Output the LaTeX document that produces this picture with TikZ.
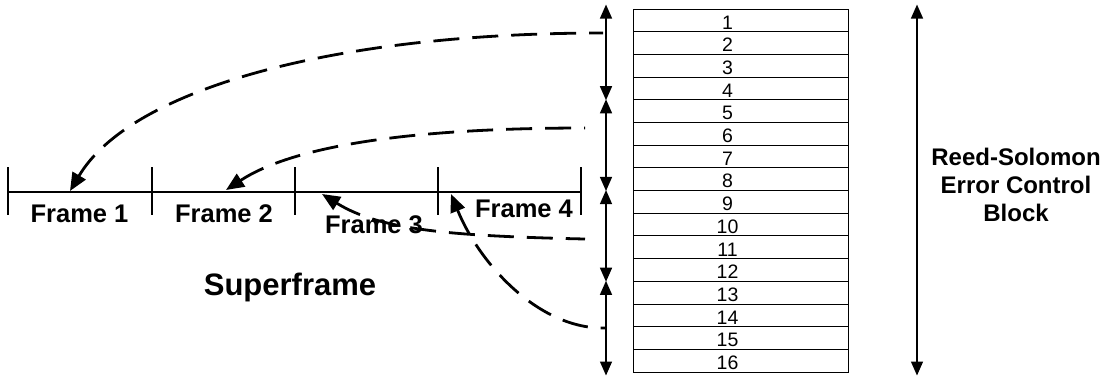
\documentclass[tikz,border=0pt]{standalone}
\usepackage{fontspec}
\setmainfont{Liberation Sans}
\usetikzlibrary{arrows.meta}

\begin{document}
\begin{tikzpicture}[x=1pt,y=-1pt,
  cell/.style={draw,line width=0.9pt,minimum width=215pt,minimum height=22.69pt,inner sep=0pt},
  num/.style={anchor=base,font=\fontsize{19.5}{19.5}\selectfont},
  frm/.style={anchor=base,font=\fontsize{25.5}{25.5}\selectfont\bfseries},
  span/.style={{Triangle[width=12pt,length=14pt]}-{Triangle[width=12pt,length=14pt]},line width=1.4pt},
  hop/.style={{Triangle[width=15pt,length=18pt]}-,line width=2.8pt,dash pattern=on 26pt off 13pt},
  tick/.style={line width=1.3pt}
]
  \useasboundingbox (0,0) rectangle (1113,376);

  \foreach \i in {1,...,16} {
    \node[cell] (r\i) at (740.5,{9+22.69*(\i-0.5)}) {};
    \node[num] at ([xshift=-13pt,yshift=3pt]r\i.south) {\i};
  }

  \coordinate (ax) at (606,0);
  \coordinate (bx) at (917,0);
  \draw[span] ([yshift=4pt]r1.north -| ax) -- (r4.south -| ax);
  \draw[span] (r5.north -| ax) -- (r8.south -| ax);
  \draw[span] (r9.north -| ax) -- (r12.south -| ax);
  \draw[span] (r13.north -| ax) -- ([yshift=-3pt]r16.south -| ax);
  \draw[span] ([yshift=4pt]r1.north -| bx) -- ([yshift=-3pt]r16.south -| bx);

  \node[font=\fontsize{24}{28}\selectfont\bfseries,align=center] (rs) at (1016,185)
    {Reed-Solomon\\Error Control\\Block};

  \foreach \n/\x in {0/8,1/152,2/295,3/438,4/581} \coordinate (t\n) at (\x,192);
  \draw[line width=2.6pt] (t0) -- (t4);
  \foreach \n in {0,...,4} \draw[tick] ([yshift=25pt]t\n) -- ([yshift=-23pt]t\n);

  \node[frm] (f1) at (79.5,222) {Frame 1};
  \node[frm] (f2) at (224,222) {Frame 2};
  \node[frm] (f3) at (374,233) {Frame 3};
  \node[frm] (f4) at (524,217) {Frame 4};
  \node[anchor=base,font=\fontsize{31}{31}\selectfont\bfseries] (sf) at (290,295) {Superframe};

  \coordinate (s1) at (603,33);
  \coordinate (s2) at (585,128);
  \coordinate (s3) at (585,239);
  \coordinate (s4) at (606,328);
  \coordinate (e1) at (70,191);
  \coordinate (e2) at (226,190);
  \coordinate (e3) at (322,194);
  \coordinate (e4) at (451,194);
  \draw[hop] (e1) .. controls (130,90) and (330,33) .. (s1);
  \draw[hop] (e2) .. controls (290,148) and (400,128) .. (s2);
  \draw[hop] (e3) .. controls (380,230) and (450,236) .. (s3);
  \draw[hop] (e4) .. controls (480,265) and (540,330) .. (s4);
\end{tikzpicture}
\end{document}
